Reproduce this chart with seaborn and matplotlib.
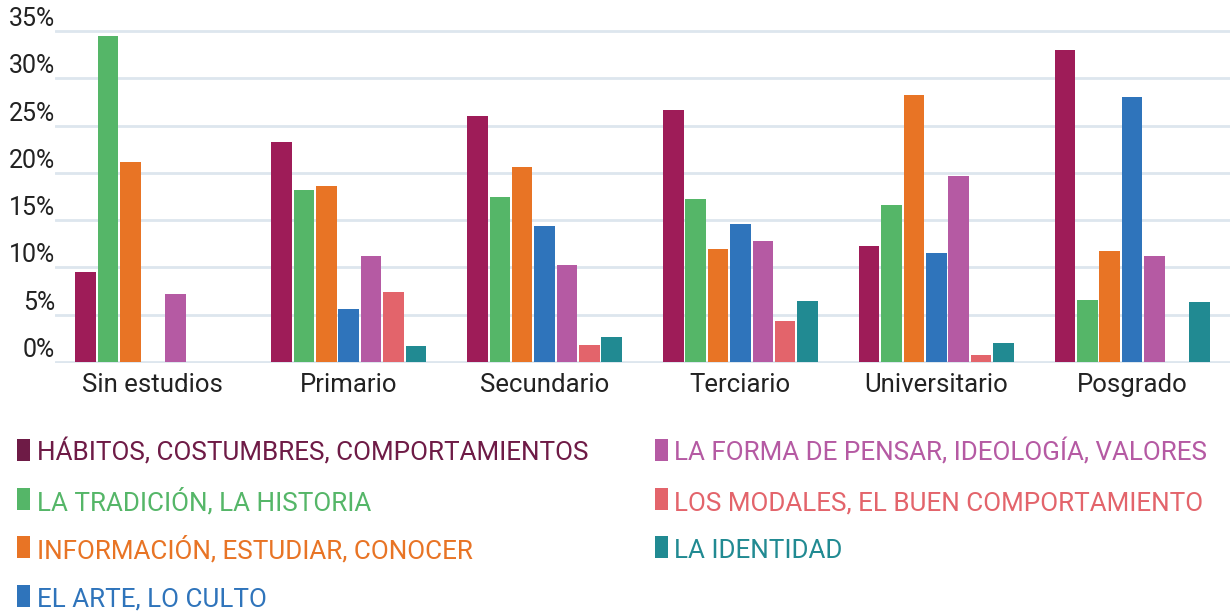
import matplotlib
matplotlib.use("Agg")
import matplotlib.pyplot as plt
import seaborn as sns
import pandas as pd
from matplotlib.patches import Rectangle

categories = ["Sin estudios", "Primario", "Secundario", "Terciario", "Universitario", "Posgrado"]
series = [
    "HÁBITOS, COSTUMBRES, COMPORTAMIENTOS",
    "LA TRADICIÓN, LA HISTORIA",
    "INFORMACIÓN, ESTUDIAR, CONOCER",
    "EL ARTE, LO CULTO",
    "LA FORMA DE PENSAR, IDEOLOGÍA, VALORES",
    "LOS MODALES, EL BUEN COMPORTAMIENTO",
    "LA IDENTIDAD",
]
habitos = [9.5, 23.3, 26.0, 26.6, 12.3, 33.0]
tradicion = [34.5, 18.2, 17.4, 17.2, 16.6, 6.6]
informacion = [21.2, 18.6, 20.6, 12.0, 28.2, 11.7]
arte = [0.0, 5.6, 14.4, 14.6, 11.5, 28.0]
forma = [7.2, 11.2, 10.3, 12.8, 19.7, 11.2]
modales = [0.0, 7.4, 1.8, 4.3, 0.7, 0.0]
identidad = [0.0, 1.7, 2.6, 6.4, 2.0, 6.3]
yticks = [0, 5, 10, 15, 20, 25, 30, 35]
ytick_labels = ["0%", "5%", "10%", "15%", "20%", "25%", "30%", "35%"]

bar_colors = ["#9e1c58", "#55b668", "#e87425", "#2f74bb", "#b55aa3", "#e3646b", "#218a92"]
legend_colors = ["#6e1b46", "#55b668", "#e87425", "#2f74bb", "#b55aa3", "#e3646b", "#218a92"]

values = [habitos, tradicion, informacion, arte, forma, modales, identidad]
rows = []
for s, vals in zip(series, values):
    for c, v in zip(categories, vals):
        rows.append({"cat": c, "serie": s, "val": v})
df = pd.DataFrame(rows)

sns.set_style("white")
plt.rcParams["font.family"] = ["Roboto", "DejaVu Sans"]

W, H = 1230, 612
fig = plt.figure(figsize=(W / 100, H / 100), dpi=100)
ymin, ymax = -0.15, 35.3
ppu = 9.457
y0 = 362
bottom_px = y0 + (0 - ymin) * ppu
top_px = y0 - ymax * ppu
ax = fig.add_axes([55 / W, 1 - bottom_px / H, 1175 / W, (bottom_px - top_px) / H])

sns.barplot(data=df, x="cat", y="val", hue="serie", order=categories, hue_order=series,
            palette=bar_colors, saturation=1, width=0.8, gap=0.08, legend=False, ax=ax,
            linewidth=0)

ax.set_xlim(-0.5, 5.5)
ax.set_ylim(ymin, ymax)
ax.set_yticks(yticks)
ax.set_yticklabels(ytick_labels)
ax.set_xlabel("")
ax.set_ylabel("")
for sp in ax.spines.values():
    sp.set_visible(False)
ax.yaxis.grid(True, color="#dde6ee", lw=2)
ax.xaxis.grid(False)
ax.set_axisbelow(True)
ax.tick_params(axis="y", length=0, pad=0, labelsize=18, labelcolor="#222222")
ax.tick_params(axis="x", length=0, pad=7, labelsize=18.5, labelcolor="#222222")
for lbl in ax.get_yticklabels():
    lbl.set_verticalalignment("bottom")

# Legend (manual, two columns)
row_bottoms = [461, 510, 558, 607]
for i, (s, col) in enumerate(zip(series, legend_colors)):
    c = i // 4
    r = i % 4
    mx = 17 if c == 0 else 655
    tx = 37 if c == 0 else 674
    yb = row_bottoms[r]
    fig.patches.append(Rectangle((mx / W, 1 - yb / H), 12.5 / W, 22.5 / H,
                                 transform=fig.transFigure, color=col, lw=0))
    fig.text(tx / W, 1 - yb / H, s, color=col, fontsize=18.7,
             ha="left", va="baseline")

fig.savefig("out.png", dpi=100)
